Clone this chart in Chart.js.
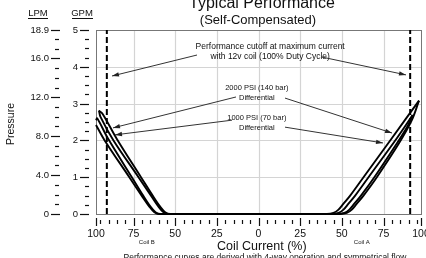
<!DOCTYPE html>
<html lang="en">
<head>
<meta charset="UTF-8">
<title>Typical Performance</title>
<script src="https://cdn.jsdelivr.net/npm/chart.js"></script>
<style>
  html, body { margin: 0; padding: 0; background: #fff; }
  canvas { display: block; }
</style>
</head>
<body>
<canvas id="perf" width="426" height="258"></canvas>
<script>
// axis ticks
const gpmTicks = [0, 1, 2, 3, 4, 5];
const lpmTicks = [0, 4, 8, 12, 16, 18.9];
const lpmLabels = ['0', '4.0', '8.0', '12.0', '16.0', '18.9'];
const xTicks = [-97.5, -75, -50, -25, 0, 25, 50, 75, 97.5];
const xTickLabels = ['100', '75', '50', '25', '0', '25', '50', '75', '100'];
const LPM_PER_GPM = 3.785;
const cutoffCurrent = 91;

// flow curves, [coil current %, GPM]  (negative = coil B)
const curveOuterUp = [[-95.7,2.81],[-94.8,2.64],[-87,2.0],[-72,1.0],[-64.5,0.5],[-60,0.2],[-57,0.05],[-54,0],
                      [41,0],[45,0.03],[48,0.12],[51,0.28],[55,0.5],[63,1.0],[80,2.06],[96.3,3.08]];
const curveOuterDown = [[-95.7,2.81],[-93.5,2.72],[-85,2.04],[-70.5,1.0],[-63.5,0.5],[-59,0.2],[-56,0.05],[-53,0],
                        [49,0],[53,0.03],[56,0.12],[59,0.28],[63,0.5],[71,1.0],[84,1.9],[92,2.55],[96.3,3.08]];
const curveInnerUp = [[-97.5,2.42],[-92.3,2.0],[-77.5,1.0],[-70.1,0.5],[-65.5,0.2],[-62.5,0.05],[-59.5,0],
                      [44,0],[48,0.03],[51,0.12],[54,0.28],[58,0.5],[66,1.0],[83,2.06],[92.5,2.69]];
const curveInnerDown = [[-97.5,2.55],[-96.8,2.6],[-90.3,2.05],[-76,1.0],[-69.2,0.5],[-64.8,0.2],[-61.8,0.05],[-58.8,0],
                        [47.5,0],[51.5,0.03],[54.5,0.12],[57.5,0.28],[61.5,0.5],[69.5,1.0],[82,1.85],[89,2.35],[92.5,2.69]];

// callouts: text lines, centre x, first line y (GPM); arrows [fromX, fromY, toX, toY]
const notes = [
  { lines: ['Performance cutoff at maximum current', 'with 12v coil (100% Duty Cycle)'], x: 7, y: 4.54, size: 8.5 },
  { lines: ['2000 PSI (140 bar)', 'Differential'], x: -1, y: 3.42, size: 7.5 },
  { lines: ['1000 PSI (70 bar)', 'Differential'], x: -1, y: 2.6, size: 7.5 }
];
const arrows = [
  [-36.9, 4.32, -87.9, 3.75],
  [37.5, 4.27, 88.5, 3.78],
  [-13.5, 3.18, -87.3, 2.34],
  [-15.9, 2.55, -86.1, 2.15],
  [15.9, 3.15, 80.1, 2.2],
  [15.9, 2.36, 74.7, 1.93]
];

const toPts = arr => arr.map(p => ({ x: p[0], y: p[1] }));
const curveStyle = { showLine: true, borderColor: '#000', borderWidth: 1.9, pointRadius: 0, tension: 0.35, clip: 4 };
const dashStyle = { showLine: true, borderColor: '#000', borderWidth: 2, pointRadius: 0, borderDash: [6, 3], clip: 2 };

const FONT = '"Liberation Sans", Arial, sans-serif';

function arrow(ctx, x1, y1, x2, y2) {
  const a = Math.atan2(y2 - y1, x2 - x1);
  ctx.beginPath(); ctx.moveTo(x1, y1); ctx.lineTo(x2, y2); ctx.stroke();
  ctx.beginPath();
  ctx.moveTo(x2, y2);
  ctx.lineTo(x2 - 7 * Math.cos(a) + 2.2 * Math.sin(a), y2 - 7 * Math.sin(a) - 2.2 * Math.cos(a));
  ctx.lineTo(x2 - 7 * Math.cos(a) - 2.2 * Math.sin(a), y2 - 7 * Math.sin(a) + 2.2 * Math.cos(a));
  ctx.closePath(); ctx.fill();
}

const decor = {
  id: 'decor',
  beforeDatasetsDraw(chart) {
    const { ctx, chartArea: a, scales: { x, y } } = chart;
    ctx.save();
    ctx.strokeStyle = '#d4d4d4';
    ctx.lineWidth = 1.2;
    [-75, -50, -25, 0, 25, 50, 75].forEach(v => {
      const px = Math.round(x.getPixelForValue(v)) + 0.5;
      ctx.beginPath(); ctx.moveTo(px, a.top); ctx.lineTo(px, a.bottom); ctx.stroke();
    });
    [1, 2, 3, 4].forEach(v => {
      const py = Math.round(y.getPixelForValue(v)) + 0.5;
      ctx.beginPath(); ctx.moveTo(a.left, py); ctx.lineTo(a.right, py); ctx.stroke();
    });
    ctx.strokeStyle = '#777';
    ctx.lineWidth = 1;
    ctx.strokeRect(a.left + 0.5, a.top + 0.5, a.right - a.left, a.bottom - a.top);
    ctx.restore();
  },
  afterDatasetsDraw(chart) {
    const { ctx, chartArea: a, scales: { x, y } } = chart;
    ctx.save();
    ctx.fillStyle = '#111';
    ctx.strokeStyle = '#111';

    // titles
    ctx.textAlign = 'center';
    ctx.textBaseline = 'alphabetic';
    ctx.font = '16px ' + FONT;
    ctx.fillText('Typical Performance', 262, 8);
    ctx.font = '13px ' + FONT;
    ctx.fillText('(Self-Compensated)', 258, 24);

    // left unit columns
    ctx.font = '9.5px ' + FONT;
    ctx.textBaseline = 'middle';
    ctx.textAlign = 'center';
    ctx.fillText('LPM', 38, 13);
    ctx.fillText('GPM', 82, 13);
    ctx.lineWidth = 1;
    ctx.beginPath();
    ctx.moveTo(28, 18.5); ctx.lineTo(48, 18.5);
    ctx.moveTo(72, 18.5); ctx.lineTo(93, 18.5);
    ctx.stroke();

    ctx.textAlign = 'right';
    ctx.lineWidth = 1.2;
    lpmTicks.forEach((v, i) => {
      const py = Math.round(y.getPixelForValue(v / LPM_PER_GPM)) + 0.5;
      ctx.fillText(lpmLabels[i], 49, py);
      ctx.beginPath(); ctx.moveTo(51, py); ctx.lineTo(60, py); ctx.stroke();
    });
    for (let l = 1; l <= 18; l++) {
      if (lpmTicks.includes(l)) continue;
      const py = Math.round(y.getPixelForValue(l / LPM_PER_GPM)) + 0.5;
      ctx.beginPath(); ctx.moveTo(55, py); ctx.lineTo(59, py); ctx.stroke();
    }
    gpmTicks.forEach(v => {
      const py = Math.round(y.getPixelForValue(v)) + 0.5;
      ctx.fillText(String(v), 78, py);
      ctx.beginPath(); ctx.moveTo(80, py); ctx.lineTo(89, py); ctx.stroke();
    });
    for (let g = 0.25; g < 5; g += 0.25) {
      if (Number.isInteger(g)) continue;
      const py = Math.round(y.getPixelForValue(g)) + 0.5;
      ctx.beginPath(); ctx.moveTo(85, py); ctx.lineTo(89, py); ctx.stroke();
    }

    // bottom ticks
    const tTop = a.bottom + 4;
    xTicks.forEach(v => {
      const px = Math.round(x.getPixelForValue(v)) + 0.5;
      ctx.beginPath(); ctx.moveTo(px, tTop); ctx.lineTo(px, tTop + 8); ctx.stroke();
    });
    for (let c = -95; c <= 95; c += 5) {
      if (c % 25 === 0) continue;
      const px = Math.round(x.getPixelForValue(c)) + 0.5;
      ctx.beginPath(); ctx.moveTo(px, tTop + 2); ctx.lineTo(px, tTop + 6); ctx.stroke();
    }
    ctx.textAlign = 'center';
    ctx.font = '10.5px ' + FONT;
    xTicks.forEach((v, i) => ctx.fillText(xTickLabels[i], x.getPixelForValue(v), a.bottom + 20));
    ctx.font = '6px ' + FONT;
    ctx.fillText('Coil B', x.getPixelForValue(-67), a.bottom + 28);
    ctx.fillText('Coil A', x.getPixelForValue(62), a.bottom + 28);
    ctx.font = '12.5px ' + FONT;
    ctx.fillText('Coil Current (%)', x.getPixelForValue(2), a.bottom + 33);
    ctx.font = '8.5px ' + FONT;
    ctx.fillText('Performance curves are derived with 4-way operation and symmetrical flow', 265, 257.5);

    ctx.save();
    ctx.translate(11, 124);
    ctx.rotate(-Math.PI / 2);
    ctx.font = '10.5px ' + FONT;
    ctx.fillText('Pressure', 0, 0);
    ctx.restore();

    // callouts
    notes.forEach(n => {
      ctx.font = n.size + 'px ' + FONT;
      n.lines.forEach((t, k) => ctx.fillText(t, x.getPixelForValue(n.x), y.getPixelForValue(n.y) + k * 10));
    });
    ctx.strokeStyle = '#333';
    ctx.fillStyle = '#222';
    ctx.lineWidth = 1;
    arrows.forEach(r => arrow(ctx, x.getPixelForValue(r[0]), y.getPixelForValue(r[1]), x.getPixelForValue(r[2]), y.getPixelForValue(r[3])));
    ctx.restore();
  }
};

new Chart(document.getElementById('perf'), {
  type: 'scatter',
  data: {
    datasets: [
      { data: toPts(curveOuterUp), ...curveStyle },
      { data: toPts(curveOuterDown), ...curveStyle },
      { data: toPts(curveInnerUp), ...curveStyle },
      { data: toPts(curveInnerDown), ...curveStyle },
      { data: [{ x: -cutoffCurrent, y: 0 }, { x: -cutoffCurrent, y: 5 }], ...dashStyle },
      { data: [{ x: cutoffCurrent, y: 0 }, { x: cutoffCurrent, y: 5 }], ...dashStyle }
    ]
  },
  options: {
    responsive: false,
    animation: false,
    devicePixelRatio: 1,
    layout: { padding: { left: 96, top: 30, right: 5, bottom: 44 } },
    scales: {
      x: { type: 'linear', min: -97.5, max: 97.5, display: false },
      y: { type: 'linear', min: 0, max: 5, display: false }
    },
    plugins: { legend: { display: false }, tooltip: { enabled: false } }
  },
  plugins: [decor]
});
</script>
</body>
</html>
